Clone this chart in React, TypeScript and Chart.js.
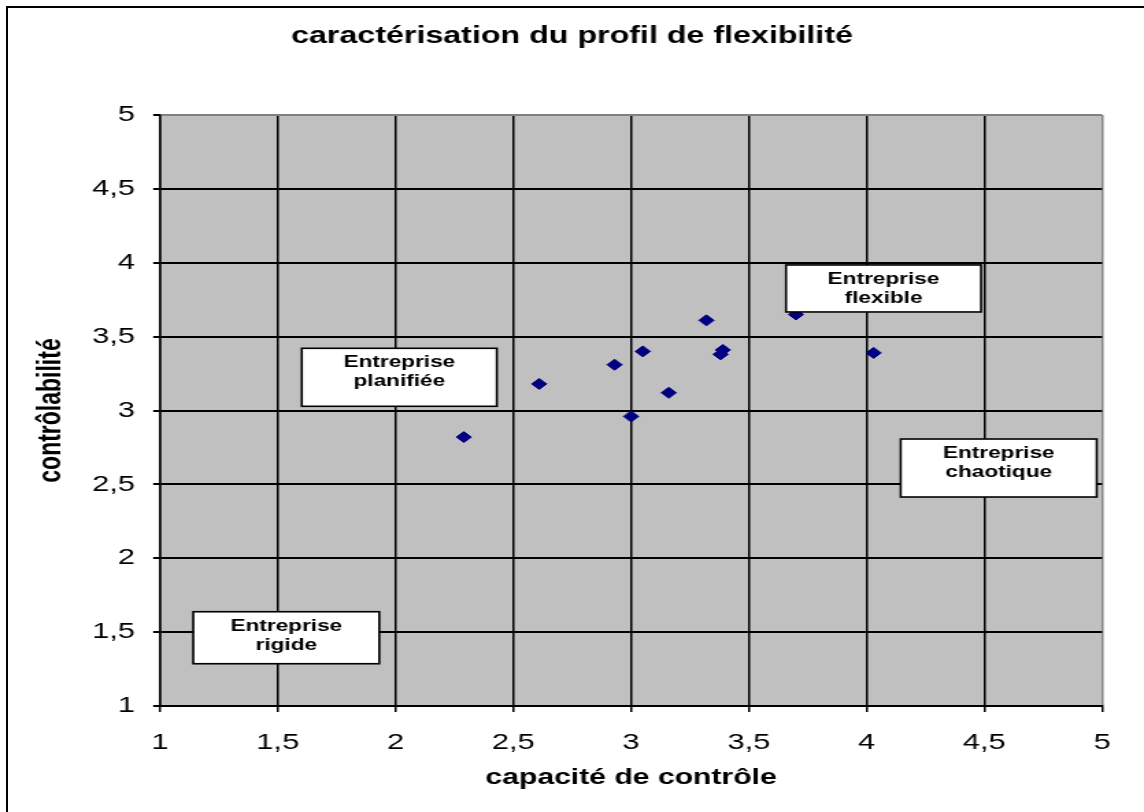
import React, { useEffect, useRef } from 'react';
import { Chart, registerables } from 'chart.js';

Chart.register(...registerables);

// ---- data ----
const xValues = [2.29, 2.61, 2.93, 3.05, 3.0, 3.16, 3.32, 3.38, 3.39, 3.7, 4.03];
const yValues = [2.82, 3.18, 3.31, 3.4, 2.96, 3.12, 3.61, 3.38, 3.41, 3.65, 3.39];
const xTickLabels = ['1', '1,5', '2', '2,5', '3', '3,5', '4', '4,5', '5'];
const yTickLabels = ['1', '1,5', '2', '2,5', '3', '3,5', '4', '4,5', '5'];
const zoneTexts = [
  ['Entreprise', 'flexible'],
  ['Entreprise', 'planifiée'],
  ['Entreprise', 'rigide'],
  ['Entreprise', 'chaotique'],
];
const zoneCenterX = [4.072, 2.016, 1.536, 4.561];
const zoneTopY = [3.985, 3.421, 1.638, 2.807];

const TITLE = 'caractérisation du profil de flexibilité';
const X_TITLE = 'capacité de contrôle';
const Y_TITLE = 'contrôlabilité';

const FONT = '"Liberation Sans", Arial, sans-serif';
const PAGE_W = 1144;
const CANVAS_W = 835;
const SX = PAGE_W / CANVAS_W;

const zoneSizes = [
  [195, 47],
  [195, 58],
  [186, 52],
  [196, 58],
];

export default function App() {
  const ref = useRef<HTMLCanvasElement>(null);

  useEffect(() => {
    const canvas = ref.current;
    if (!canvas) return;

    const plotBg = {
      id: 'plotBg',
      beforeDraw(chart: any) {
        const { ctx, chartArea } = chart;
        ctx.save();
        ctx.fillStyle = '#C0C0C0';
        ctx.fillRect(chartArea.left, chartArea.top, chartArea.right - chartArea.left, chartArea.bottom - chartArea.top);
        ctx.restore();
      },
    };

    const zones = {
      id: 'zones',
      afterDatasetsDraw(chart: any) {
        const { ctx, scales } = chart;
        ctx.save();
        zoneTexts.forEach((lines, i) => {
          const cx = scales.x.getPixelForValue(zoneCenterX[i]);
          const top = scales.y.getPixelForValue(zoneTopY[i]);
          const w = zoneSizes[i][0] / SX;
          const h = zoneSizes[i][1];
          const left = cx - w / 2;
          ctx.fillStyle = '#ffffff';
          ctx.fillRect(left, top, w, h);
          ctx.strokeStyle = '#000000';
          ctx.lineWidth = 1.6;
          ctx.strokeRect(left, top, w, h);
          ctx.fillStyle = '#000000';
          ctx.font = `bold 16.5px ${FONT}`;
          ctx.textAlign = 'center';
          ctx.textBaseline = 'middle';
          lines.forEach((t, j) => {
            ctx.fillText(t, cx, top + 14.5 + j * 19);
          });
        });
        ctx.restore();
      },
    };

    const tickFont = { family: FONT, size: 22.5, weight: 'normal' as const };

    const chart = new Chart(canvas, {
      type: 'scatter',
      data: {
        datasets: [
          {
            data: xValues.map((x, i) => ({ x, y: yValues[i] })),
            pointStyle: 'rectRot',
            pointRadius: 5.5,
            pointHoverRadius: 5.5,
            pointBackgroundColor: '#000080',
            pointBorderColor: '#000080',
            pointBorderWidth: 1,
            showLine: false,
          },
        ],
      },
      options: {
        animation: false,
        responsive: false,
        devicePixelRatio: 1,
        events: [],
        layout: { padding: { left: 0, right: 0, top: 0, bottom: 0 } },
        plugins: {
          legend: { display: false },
          tooltip: { enabled: false },
          title: {
            display: true,
            text: TITLE,
            color: '#000',
            font: { family: FONT, size: 23.5, weight: 'bold', lineHeight: 1.2 },
            padding: { top: 22, bottom: 64.8 },
          },
        },
        scales: {
          x: {
            type: 'linear',
            position: 'bottom',
            min: 1,
            max: 5,
            ticks: {
              stepSize: 0.5,
              color: '#000',
              font: tickFont,
              padding: 17.6,
              maxRotation: 0,
              autoSkip: false,
              callback: (_v: any, i: number) => xTickLabels[i] ?? '',
            },
            grid: {
              color: (c: any) => (c.tick && c.tick.value === 5 ? '#808080' : '#000'),
              lineWidth: 1.5,
              tickLength: 6,
              tickColor: '#000',
            },
            border: { display: true, color: '#000', width: 2 },
            title: {
              display: true,
              text: X_TITLE,
              color: '#000',
              font: { family: FONT, size: 22, weight: 'bold', lineHeight: 1.2 },
              padding: { top: 0, bottom: 20.8 },
            },
            afterFit: (s: any) => {
              s.height = 106;
            },
          },
          y: {
            type: 'linear',
            position: 'left',
            min: 1,
            max: 5,
            ticks: {
              stepSize: 0.5,
              color: '#000',
              font: tickFont,
              padding: 13.3,
              autoSkip: false,
              callback: (_v: any, i: number) => yTickLabels[i] ?? '',
            },
            grid: {
              color: (c: any) => (c.tick && c.tick.value === 5 ? '#808080' : '#000'),
              lineWidth: 2,
              tickLength: 5,
              tickColor: '#000',
            },
            border: { display: true, color: '#000', width: 1.5 },
            title: {
              display: true,
              text: Y_TITLE,
              color: '#000',
              font: { family: FONT, size: 23, weight: 'bold', lineHeight: 1.2 },
              padding: { top: 23.4, bottom: 0 },
            },
            afterFit: (s: any) => {
              s.width = 116.8;
            },
          },
          yR: {
            type: 'linear',
            position: 'right',
            display: true,
            grid: { display: false },
            ticks: { display: false },
            border: { display: false },
            afterFit: (s: any) => {
              s.width = 30.6;
            },
          },
        },
      },
      plugins: [plotBg, zones],
    } as any);

    return () => chart.destroy();
  }, []);

  return (
    <div style={{ position: 'fixed', left: 0, top: 0, width: PAGE_W, height: 812, overflow: 'hidden', background: '#fff' }}>
      <div
        style={{
          position: 'absolute',
          left: 6,
          top: 6,
          width: 1300,
          height: 1000,
          borderLeft: '2px solid #000',
          borderTop: '2px solid #000',
        }}
      />
      <canvas
        ref={ref}
        width={CANVAS_W}
        height={812}
        style={{ position: 'absolute', left: 0, top: 0, width: PAGE_W + 'px', height: '812px', display: 'block' }}
      />
    </div>
  );
}
